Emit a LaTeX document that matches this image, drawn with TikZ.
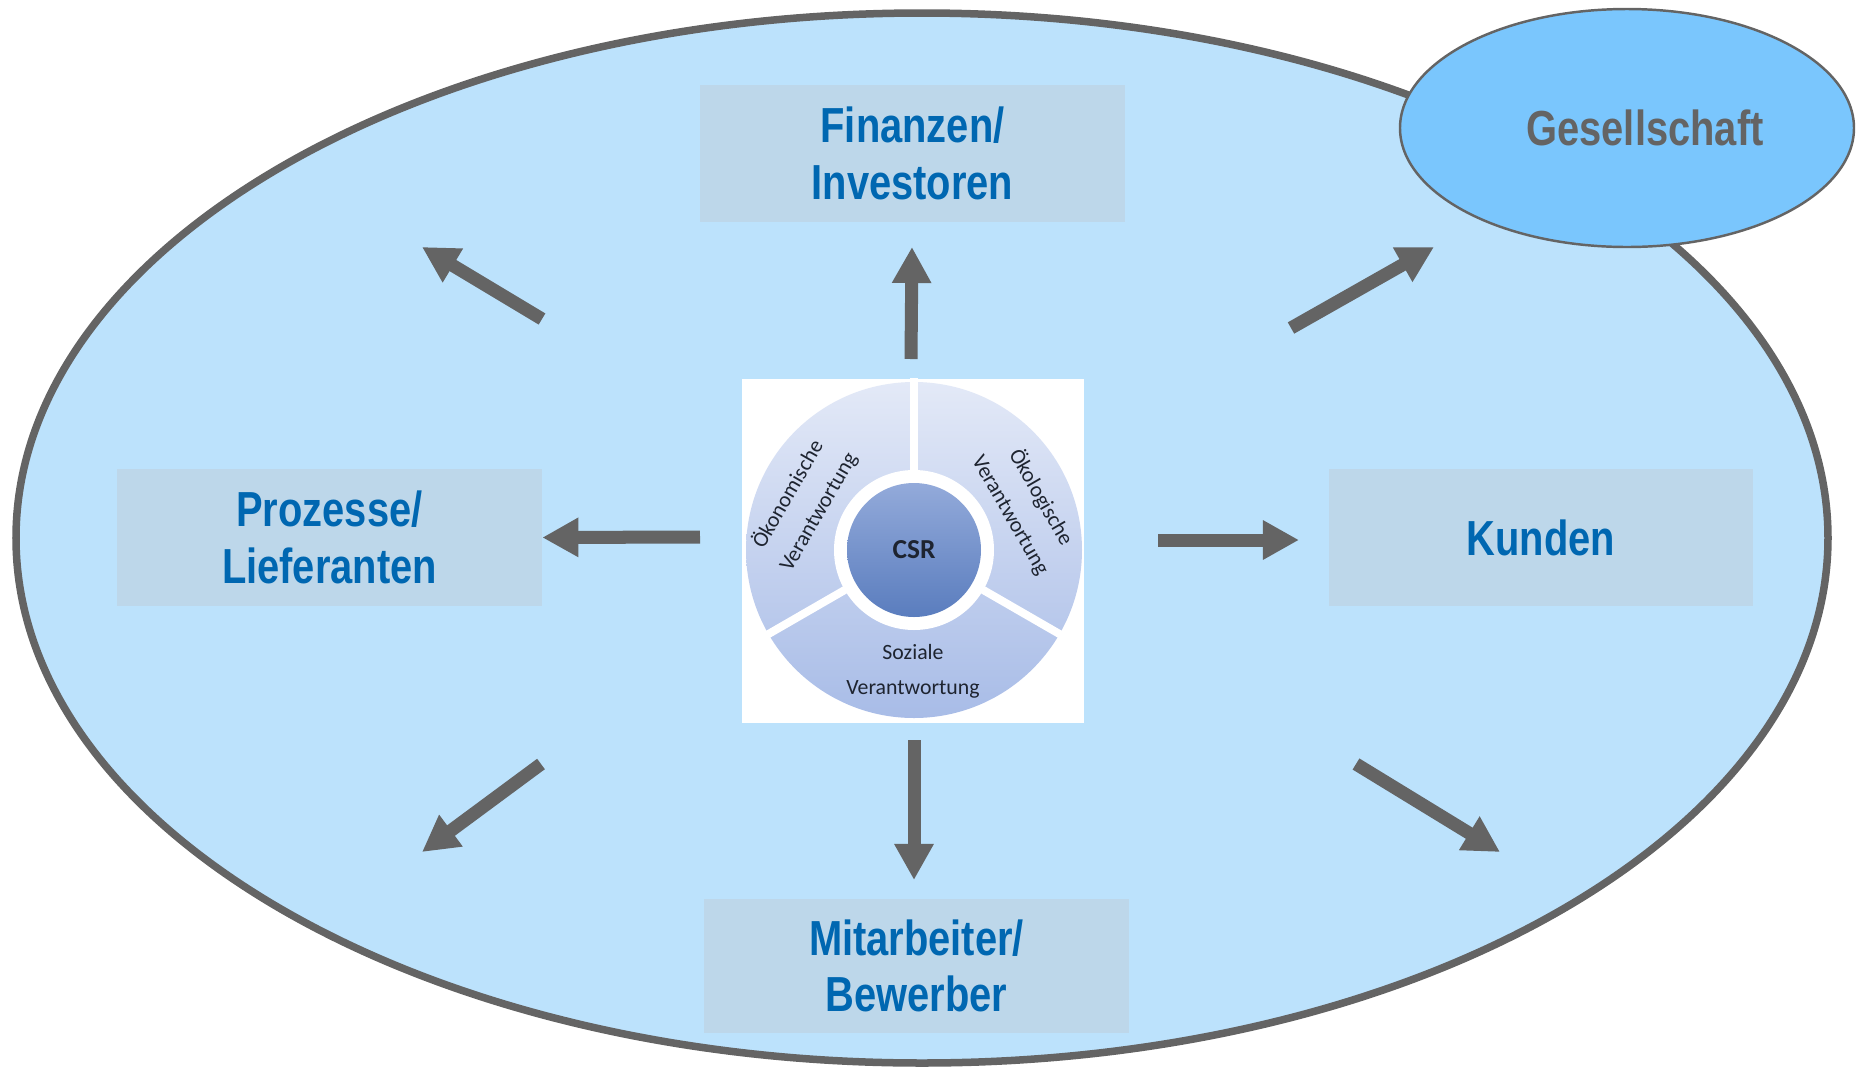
\documentclass[tikz,border=0pt]{standalone}
\usepackage{fontspec}
\newfontfamily\schmal{Liberation Sans}[FakeStretch=0.81]
\newfontfamily\radfont{Carlito}
\usetikzlibrary{arrows.meta}
\definecolor{hellblau}{HTML}{BCE2FC}
\definecolor{mittelblau}{HTML}{7AC6FD}
\definecolor{feldblau}{HTML}{BDD7EA}
\definecolor{schriftblau}{HTML}{0067B1}
\definecolor{grau}{HTML}{646464}
\definecolor{radoben}{HTML}{E3E9F7}
\definecolor{radunten}{HTML}{A8BCE7}
\definecolor{kernoben}{HTML}{93AADA}
\definecolor{kernunten}{HTML}{5A7DBE}
\definecolor{dunkel}{HTML}{1E2430}
\begin{document}
\begin{tikzpicture}[x=0.01cm, y=-0.01cm,
        feld/.style={fill=feldblau, text=schriftblau, align=center, inner sep=0pt,
            minimum width=4.24cm, minimum height=1.36cm,
            font=\schmal\bfseries\fontsize{14}{16}\selectfont},
        pfeil/.style={draw=grau, line width=0.13cm, -{Triangle[length=0.36cm,width=0.37cm]}},
        radtext/.style={text=dunkel, align=center, inner sep=0pt,
            font=\radfont\fontsize{6.2}{10}\selectfont}]
    \useasboundingbox (0,0) rectangle (1856,1069);
    % grosse Ellipse und Gesellschaft
    \draw[draw=grau, line width=0.075cm, fill=hellblau] (922,538) ellipse (906 and 525);
    \draw[draw=grau, line width=0.7pt, fill=mittelblau] (1627,128) ellipse (227 and 119);
    \node[text=grau, font=\schmal\bfseries\fontsize{14}{16}\selectfont] (ges) at (1645,128) {Gesellschaft};
    % Anspruchsgruppen
    \node[feld] (fin) at (912.5,153.5) {Finanzen/\\Investoren};
    \node[feld] (pro) at (329.5,537.5) {Prozesse/\\Lieferanten};
    \node[feld] (kun) at (1541,537.5) {Kunden};
    \node[feld, minimum height=1.34cm] (mit) at (916.5,966) {Mitarbeiter/\\Bewerber};
    % CSR-Rad
    \fill[white] (742,379) rectangle (1084,723);
    \coordinate (rad) at (914,550);
    \shade[top color=radoben, bottom color=radunten] (rad) circle (168);
    \fill[white] (rad) circle (80);
    \draw[white, line width=0.08cm] (rad) ++(-90:76) -- ++(-90:96);
    \draw[white, line width=0.08cm] (rad) ++(30:76) -- ++(30:96);
    \draw[white, line width=0.08cm] (rad) ++(150:76) -- ++(150:96);
    \shade[top color=kernoben, bottom color=kernunten] (rad) circle (67);
    \node[text=dunkel, font=\radfont\bfseries\fontsize{7.8}{9}\selectfont] (csr) at (rad) {CSR};
    \node[radtext, rotate=60] (oek) at (803,503) {Ökonomische\\Verantwortung};
    \node[radtext, rotate=-60] (oeko) at (1026,506) {Ökologische\\Verantwortung};
    \node[radtext] (soz) at (913,671) {Soziale\\Verantwortung};
    % Pfeile
    \coordinate (o-a) at (911,359);  \coordinate (o-b) at (912,247);
    \coordinate (u-a) at (914,740);  \coordinate (u-b) at (914,880);
    \coordinate (l-a) at (700,537);
    \coordinate (r-a) at (1158,540); \coordinate (r-b) at (1299,540);
    \coordinate (ol-a) at (542,319); \coordinate (ol-b) at (422,247);
    \coordinate (or-a) at (1291,328); \coordinate (or-b) at (1434,247);
    \coordinate (ul-a) at (541,764); \coordinate (ul-b) at (422,852);
    \coordinate (ur-a) at (1356,764); \coordinate (ur-b) at (1500,852);
    \draw[pfeil] (o-a) -- (o-b);
    \draw[pfeil] (u-a) -- (u-b);
    \draw[pfeil] (l-a) -- (pro.east);
    \draw[pfeil] (r-a) -- (r-b);
    \draw[pfeil] (ol-a) -- (ol-b);
    \draw[pfeil] (or-a) -- (or-b);
    \draw[pfeil] (ul-a) -- (ul-b);
    \draw[pfeil] (ur-a) -- (ur-b);
\end{tikzpicture}
\end{document}
